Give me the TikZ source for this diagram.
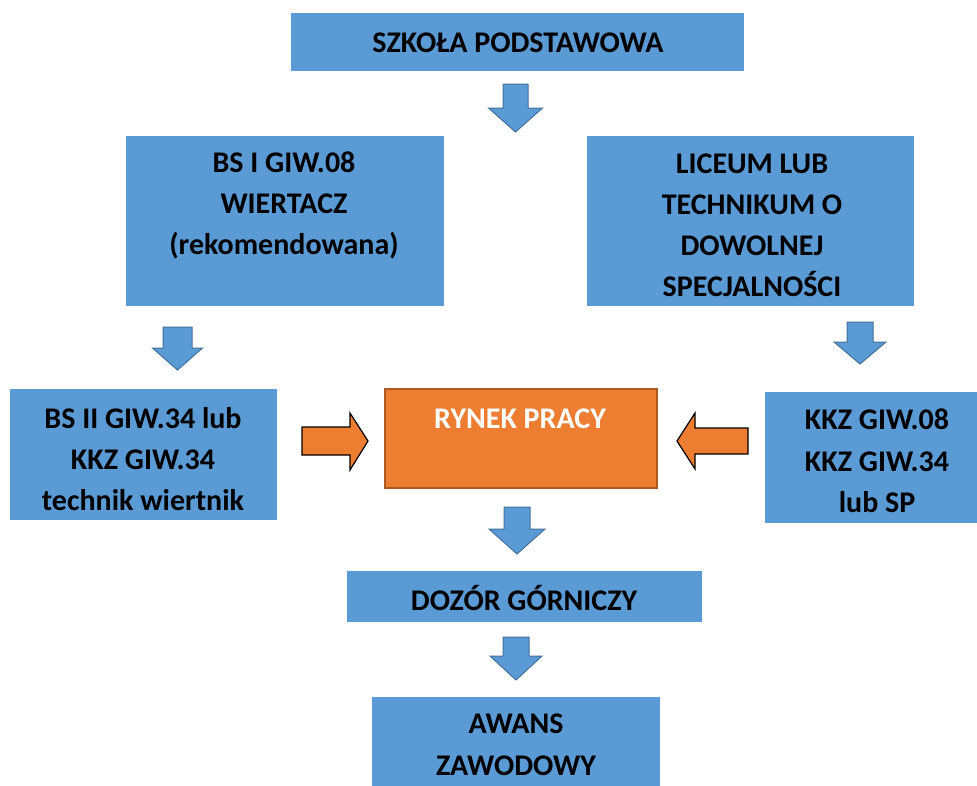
\documentclass[tikz,border=0pt]{standalone}
\usepackage{fontspec}
\setmainfont{Carlito}
\definecolor{boxblue}{HTML}{5B9BD5}
\definecolor{arrblue}{HTML}{41719C}
\definecolor{orng}{HTML}{ED7D31}
\definecolor{orngdark}{HTML}{AE5A21}
\newcommand{\dnarrow}[6]{% cx, top, headY, tipY, half shaft, half head
  \draw[blockarrow] ({#1-#5},#2) -- ({#1+#5},#2) -- ({#1+#5},#3) -- ({#1+#6},#3)
    -- (#1,#4) -- ({#1-#6},#3) -- ({#1-#5},#3) -- cycle;}
\begin{document}
\begin{tikzpicture}[x=1pt,y=-1pt,
  box/.style={fill=boxblue, draw=none, inner sep=0pt, outer sep=0pt},
  obox/.style={fill=orng, draw=orngdark, line width=2pt, inner sep=0pt, outer sep=0pt},
  txt/.style={font=\bfseries\fontsize{30}{36}\selectfont, inner sep=0pt, anchor=base},
  blockarrow/.style={fill=boxblue, draw=arrblue, line width=1pt, line join=miter},
  oarrow/.style={fill=orng, draw=black, line width=1.2pt, line join=miter}]
\useasboundingbox (0,0) rectangle (977,785);

% boxes
\node[box, minimum width=453pt, minimum height=58pt] (sp) at (517.5,42) {};
\node[box, minimum width=318pt, minimum height=170pt] (bs1) at (285,221) {};
\node[box, minimum width=327pt, minimum height=170pt] (lic) at (750.5,221) {};
\node[box, minimum width=267pt, minimum height=131pt] (bs2) at (143.5,454.5) {};
\node[obox, minimum width=272pt, minimum height=99pt] (rynek) at (521,438.5) {};
\node[box, minimum width=224pt, minimum height=131pt] (kkz) at (877,457.5) {};
\node[box, minimum width=355pt, minimum height=51pt] (dozor) at (524.5,596.5) {};
\node[box, minimum width=288pt, minimum height=103pt] (awans) at (516,748.5) {};

% texts
\node[txt] (sp-t) at (518,52) {SZKOŁA PODSTAWOWA};
\node[txt] (bs1-a) at (284,172) {BS I GIW.08};
\node[txt] (bs1-b) at (284,213) {WIERTACZ};
\node[txt] (bs1-c) at (284,254) {(rekomendowana)};
\node[txt] (lic-a) at (752,173) {LICEUM LUB};
\node[txt] (lic-b) at (752,214) {TECHNIKUM O};
\node[txt] (lic-c) at (752,255) {DOWOLNEJ};
\node[txt] (lic-d) at (752,296) {SPECJALNOŚCI};
\node[txt] (bs2-a) at (143,428) {BS II GIW.34 lub};
\node[txt] (bs2-b) at (143,469) {KKZ GIW.34};
\node[txt] (bs2-c) at (143,510) {technik wiertnik};
\node[txt, text=white] (rynek-t) at (520,428) {RYNEK PRACY};
\node[txt] (kkz-a) at (877,429) {KKZ GIW.08};
\node[txt] (kkz-b) at (877,471) {KKZ GIW.34};
\node[txt] (kkz-c) at (877,512) {lub SP};
\node[txt] (dozor-t) at (524,610) {DOZÓR GÓRNICZY};
\node[txt] (awans-a) at (516,733) {AWANS};
\node[txt] (awans-b) at (516,775) {ZAWODOWY};

% blue block arrows
\dnarrow{515.5}{84}{108}{132}{12.5}{27}
\dnarrow{177.5}{327}{348}{370}{14.5}{25}
\dnarrow{860}{322}{342}{364}{13}{26}
\dnarrow{517}{507}{529}{554}{13}{28}
\dnarrow{516}{637}{656}{680}{13}{26}

% orange block arrows
\draw[oarrow] (302,427) -- (350,427) -- (350,413) -- (368,441) -- (350,470)
  -- (350,455) -- (302,455) -- cycle;
\draw[oarrow] (748,428) -- (695,428) -- (695,413) -- (677,441) -- (695,469)
  -- (695,454) -- (748,454) -- cycle;
\end{tikzpicture}
\end{document}
